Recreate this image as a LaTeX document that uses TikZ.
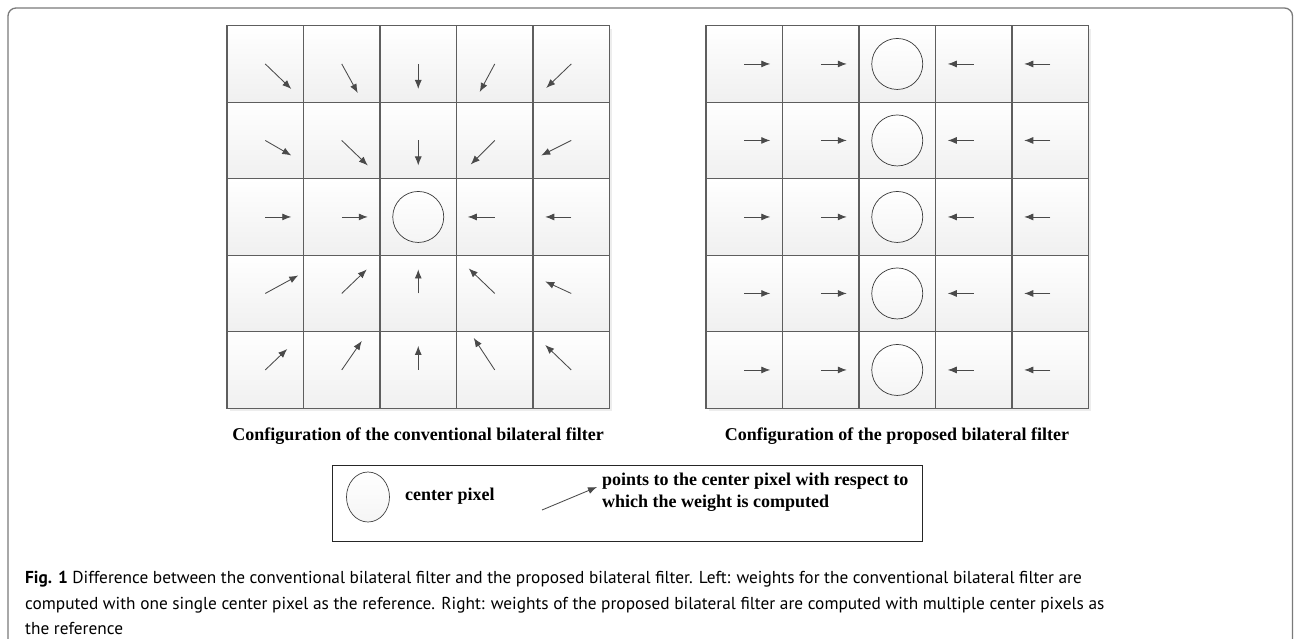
\documentclass[tikz,border=0pt]{standalone}
\usepackage{fontspec}
\setmainfont{Liberation Serif}
\newfontfamily\capfont{PT Sans}
\usetikzlibrary{arrows.meta,shapes.geometric}
\definecolor{gridline}{HTML}{5E5E5E}
\definecolor{ptrcol}{HTML}{4A4A4A}
\definecolor{framecol}{HTML}{7A7A7A}
\begin{document}
\begin{tikzpicture}[x=1pt,y=-1pt,
  cell/.style={rectangle, draw=gridline, line width=1.1pt, minimum size=76.5pt,
    inner sep=0pt, top color=white, bottom color=gray!12},
  ctr/.style={circle, draw=gray!45!black, line width=0.7pt, minimum size=51pt,
    inner sep=0pt, top color=white, bottom color=gray!8},
  ptr/.style={draw=ptrcol, line width=0.85pt, -{Latex[length=9pt,width=7pt]}},
  title/.style={font=\bfseries\fontsize{18}{20}\selectfont, inner sep=0pt},
  legtext/.style={font=\bfseries\fontsize{18}{22}\selectfont, inner sep=0pt, align=left},
  captext/.style={font=\capfont\fontsize{17.3}{20}\selectfont, inner sep=0pt, anchor=base west},
]
\useasboundingbox (0,0) rectangle (1294,638);

% outer figure frame, open at the bottom
\draw[framecol, line width=1.3pt, rounded corners=8pt]
  (8,645) -- (8,8) -- (1292.5,8) -- (1292.5,645);

% soft shadows behind the two grids
\fill[gray!14] (229.5,28.5) rectangle (611.5,410.5);
\fill[gray!14] (708.5,28.5) rectangle (1090.5,410.5);

% the two 5x5 pixel grids
\foreach \r in {0,...,4}{
  \foreach \c in {0,...,4}{
    \node[cell] (L-\r-\c) at ({265.25+76.5*\c},{63.95+76.5*\r}) {};
    \node[cell] (R-\r-\c) at ({744.25+76.5*\c},{63.95+76.5*\r}) {};
  }
}

% conventional filter: one center pixel, all neighbours point to it
\node[ctr] (Lc) at (L-2-2.center) {};
\foreach \r/\c/\dx/\dy in {
  0/0/26/25, 0/1/16/29, 0/2/0/25, 0/3/-15/28, 0/4/-25/24,
  1/0/26/15, 1/1/26/25, 1/2/0/25, 1/3/-24/24, 1/4/-30/15,
  2/0/26/0,  2/1/26/0,            2/3/-27/0,  2/4/-26/0,
  3/0/33/-18, 3/1/25/-24, 3/2/0/-24, 3/3/-26/-25, 3/4/-26/-12,
  4/0/22/-21, 4/1/20/-29, 4/2/0/-24, 4/3/-21/-32, 4/4/-26/-25}
  \draw[ptr] (L-\r-\c.center) -- ++(\dx,\dy);

% proposed filter: a center pixel in every row
\foreach \r in {0,...,4}{
  \node[ctr] (Rc-\r) at (R-\r-2.center) {};
  \draw[ptr] (R-\r-0.center) -- ++(26,0);
  \draw[ptr] (R-\r-1.center) -- ++(26,0);
  \draw[ptr] (R-\r-3.center) -- ++(-26,0);
  \draw[ptr] (R-\r-4.center) -- ++(-26,0);
}

% grid titles
\node[title] (Ltitle) at (418,436) {Configuration of the conventional bilateral filter};
\node[title] (Rtitle) at (897,436) {Configuration of the proposed bilateral filter};

% legend
\node[draw=black!85, line width=1pt, minimum width=590pt, minimum height=76pt,
  inner sep=0pt] (legend) at (627,503) {};
\node[ellipse, draw=gray!50!black, line width=0.7pt, minimum width=43pt,
  minimum height=50pt, inner sep=0pt, top color=white, bottom color=gray!8]
  (lgc) at (368,497) {};
\node[legtext, anchor=west] (lgct) at (405,496) {center pixel};
\coordinate (lga) at (542,510);
\draw[ptr] (lga) -- ++(55,-23);
\node[legtext, anchor=west] (lgpt) at (602,492)
  {points to the center pixel with respect to\\which the weight is computed};

% caption
\node[captext] (cap1) at (25,583) {\textbf{Fig. 1} Difference between the conventional bilateral filter and the proposed bilateral filter. Left: weights for the conventional bilateral filter are};
\node[captext] (cap2) at (25,609) {computed with one single center pixel as the reference. Right: weights of the proposed bilateral filter are computed with multiple center pixels as};
\node[captext] (cap3) at (25,634) {the reference};
\end{tikzpicture}
\end{document}
